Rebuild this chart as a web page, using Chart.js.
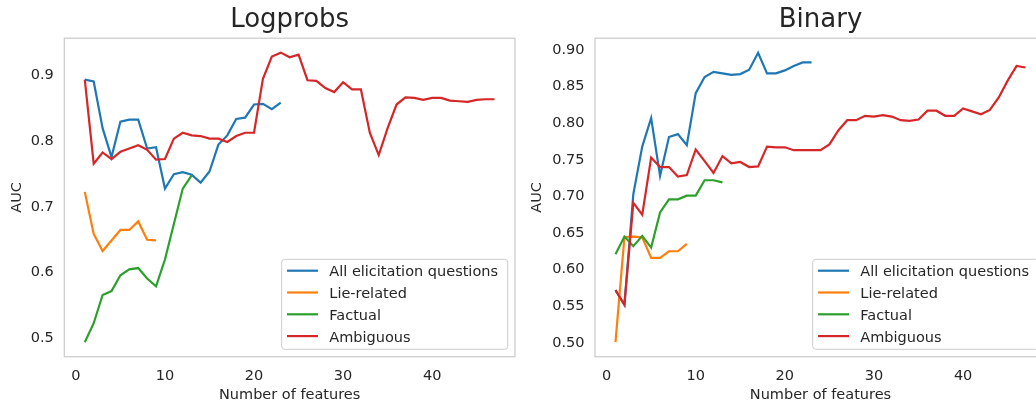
<!DOCTYPE html>
<html>
<head>
<meta charset="utf-8">
<script src="https://cdn.jsdelivr.net/npm/chart.js@4.4.1/dist/chart.umd.min.js"></script>
<style>
  html, body { margin: 0; padding: 0; width: 1036px; height: 406px; overflow: hidden; background: #fff; }
  #left  { position: absolute; left: 0;     top: 0; width: 520px; height: 406px; }
  #right { position: absolute; left: 518px; top: 0; width: 533px; height: 406px; }
</style>
</head>
<body>
<div id="left"><canvas id="logprobsChart"></canvas></div>
<div id="right"><canvas id="binaryChart"></canvas></div>
<script>
// Number of features used by the lie detector (x axis)
const featureCounts = [1, 2, 3, 4, 5, 6, 7, 8, 9, 10, 11, 12, 13, 14, 15, 16, 17, 18, 19, 20,
  21, 22, 23, 24, 25, 26, 27, 28, 29, 30, 31, 32, 33, 34, 35, 36, 37, 38, 39, 40,
  41, 42, 43, 44, 45, 46, 47];

const seriesNames  = ['All elicitation questions', 'Lie-related', 'Factual', 'Ambiguous'];
const seriesColors = ['#1f77b4', '#ff7f0e', '#2ca02c', '#d62728'];

const xTicks = [0, 10, 20, 30, 40];
const logprobsTicks = ['0.5', '0.6', '0.7', '0.8', '0.9'];
const binaryTicks = ['0.50', '0.55', '0.60', '0.65', '0.70', '0.75', '0.80', '0.85', '0.90'];

// AUC, logprobs features
const logprobsAll = [0.894, 0.891, 0.820, 0.776, 0.830, 0.833, 0.833, 0.789, 0.791, 0.728,
  0.750, 0.753, 0.749, 0.737, 0.754, 0.795, 0.809, 0.834, 0.836, 0.856, 0.857, 0.849, 0.859];
const logprobsLie = [0.723, 0.659, 0.633, 0.649, 0.665, 0.665, 0.678, 0.650, 0.649];
const logprobsFactual = [0.494, 0.523, 0.566, 0.572, 0.596, 0.605, 0.607, 0.591, 0.579, 0.620,
  0.674, 0.728, 0.748];
const logprobsAmbiguous = [0.894, 0.766, 0.783, 0.773, 0.784, 0.789, 0.794, 0.787, 0.772, 0.773,
  0.804, 0.813, 0.809, 0.808, 0.804, 0.804, 0.799, 0.808, 0.813, 0.813,
  0.895, 0.929, 0.935, 0.928, 0.932, 0.893, 0.892, 0.881, 0.875, 0.890,
  0.879, 0.879, 0.813, 0.779, 0.820, 0.856, 0.867, 0.866, 0.863, 0.866,
  0.866, 0.862, 0.861, 0.860, 0.863, 0.864, 0.864];

// AUC, binary features
const binaryAll = [0.572, 0.552, 0.703, 0.768, 0.807, 0.728, 0.781, 0.785, 0.770, 0.841,
  0.863, 0.870, 0.868, 0.866, 0.867, 0.873, 0.896, 0.868, 0.868, 0.872, 0.878, 0.883, 0.883];
const binaryLie = [0.501, 0.644, 0.645, 0.644, 0.616, 0.616, 0.625, 0.625, 0.635];
const binaryFactual = [0.621, 0.645, 0.632, 0.646, 0.630, 0.678, 0.696, 0.696, 0.701, 0.701,
  0.722, 0.722, 0.719];
const binaryAmbiguous = [0.572, 0.552, 0.691, 0.675, 0.753, 0.740, 0.740, 0.727, 0.729, 0.764,
  0.748, 0.732, 0.755, 0.745, 0.747, 0.740, 0.741, 0.768, 0.767, 0.767,
  0.763, 0.763, 0.763, 0.763, 0.771, 0.790, 0.804, 0.804, 0.810, 0.809,
  0.811, 0.809, 0.804, 0.803, 0.805, 0.817, 0.817, 0.810, 0.810, 0.820,
  0.816, 0.812, 0.818, 0.835, 0.858, 0.878, 0.876];

const TEXT = '#262626';
const EDGE = '#cccccc';
Chart.defaults.font.family = "'DejaVu Sans', sans-serif";
Chart.defaults.font.size = 14.5;
Chart.defaults.color = TEXT;

function toPoints(values) {
  return values.map((v, i) => ({ x: featureCounts[i], y: v }));
}

function buildDatasets(seriesList) {
  // later series sit on top of earlier ones
  return seriesList.map((values, i) => ({
    label: seriesNames[i],
    data: toPoints(values),
    borderColor: seriesColors[i],
    backgroundColor: seriesColors[i],
    borderWidth: 2.2,
    pointRadius: 0,
    tension: 0,
    fill: false,
    order: seriesList.length - i
  }));
}

// light frame around the plotting area
const frame = {
  id: 'frame',
  beforeDatasetsDraw(chart) {
    const { ctx, chartArea: a } = chart;
    ctx.save();
    ctx.strokeStyle = EDGE;
    ctx.lineWidth = 1.25;
    ctx.strokeRect(a.left, a.top, a.right - a.left, a.bottom - a.top);
    ctx.restore();
  }
};

// legend box in the lower-right corner of the plotting area
const cornerLegend = {
  id: 'cornerLegend',
  afterDatasetsDraw(chart) {
    const { ctx, chartArea: a } = chart;
    const w = 226, h = 90;
    const x0 = a.right - 7.3 - w, y0 = a.bottom - 7.4 - h;
    ctx.save();
    ctx.beginPath();
    ctx.roundRect(x0, y0, w, h, 3);
    ctx.fillStyle = 'rgba(255,255,255,0.8)';
    ctx.fill();
    ctx.strokeStyle = EDGE;
    ctx.lineWidth = 1;
    ctx.stroke();
    ctx.font = "14.5px 'DejaVu Sans', sans-serif";
    ctx.textBaseline = 'alphabetic';
    ctx.textAlign = 'left';
    seriesNames.forEach((name, i) => {
      const cy = y0 + 11.4 + i * 21.8;
      ctx.strokeStyle = seriesColors[i];
      ctx.lineWidth = 2.2;
      ctx.beginPath();
      ctx.moveTo(x0 + 5.3, cy);
      ctx.lineTo(x0 + 36.3, cy);
      ctx.stroke();
      ctx.fillStyle = TEXT;
      ctx.fillText(name, x0 + 47.6, cy + 5.6);
    });
    ctx.restore();
  }
};

function makeChart(canvasId, title, seriesList, yMin, yMax, yTickLabels, yAxisWidth, yTitlePad) {
  const yValues = yTickLabels.map(Number);
  return new Chart(document.getElementById(canvasId), {
    type: 'line',
    data: { datasets: buildDatasets(seriesList) },
    plugins: [frame, cornerLegend],
    options: {
      responsive: true,
      maintainAspectRatio: false,
      animation: false,
      layout: { padding: { left: 0, right: 5, top: 0, bottom: 0 } },
      plugins: {
        legend: { display: false },
        tooltip: { enabled: false },
        title: {
          display: true,
          text: title,
          fullSize: false,
          color: TEXT,
          font: { size: 26, weight: 'normal' },
          padding: { top: 5, bottom: 2 }
        }
      },
      scales: {
        x: {
          type: 'linear',
          min: -1.3,
          max: 49.3,
          grid: { display: false, drawTicks: false },
          border: { display: false },
          afterBuildTicks: (s) => { s.ticks = xTicks.map(v => ({ value: v })); },
          afterFit: (s) => { s.height = 49.3; },
          ticks: { padding: 11, maxRotation: 0, autoSkip: false },
          title: { display: true, text: 'Number of features', color: TEXT, padding: { top: 0, bottom: 2.5 } }
        },
        y: {
          type: 'linear',
          min: yMin,
          max: yMax,
          grid: { display: false, drawTicks: false },
          border: { display: false },
          afterBuildTicks: (s) => { s.ticks = yValues.map(v => ({ value: v })); },
          afterFit: (s) => { s.width = yAxisWidth; },
          ticks: { padding: 10.5, autoSkip: false, callback: (v, i) => yTickLabels[i] },
          title: { display: true, text: 'AUC', color: TEXT, padding: { top: yTitlePad, bottom: 0 } }
        }
      }
    }
  });
}

makeChart('logprobsChart', 'Logprobs',
  [logprobsAll, logprobsLie, logprobsFactual, logprobsAmbiguous],
  0.472, 0.957, logprobsTicks, 64.3, 8.8);

makeChart('binaryChart', 'Binary',
  [binaryAll, binaryLie, binaryFactual, binaryAmbiguous],
  0.481, 0.916, binaryTicks, 77, 10.8);
</script>
</body>
</html>
